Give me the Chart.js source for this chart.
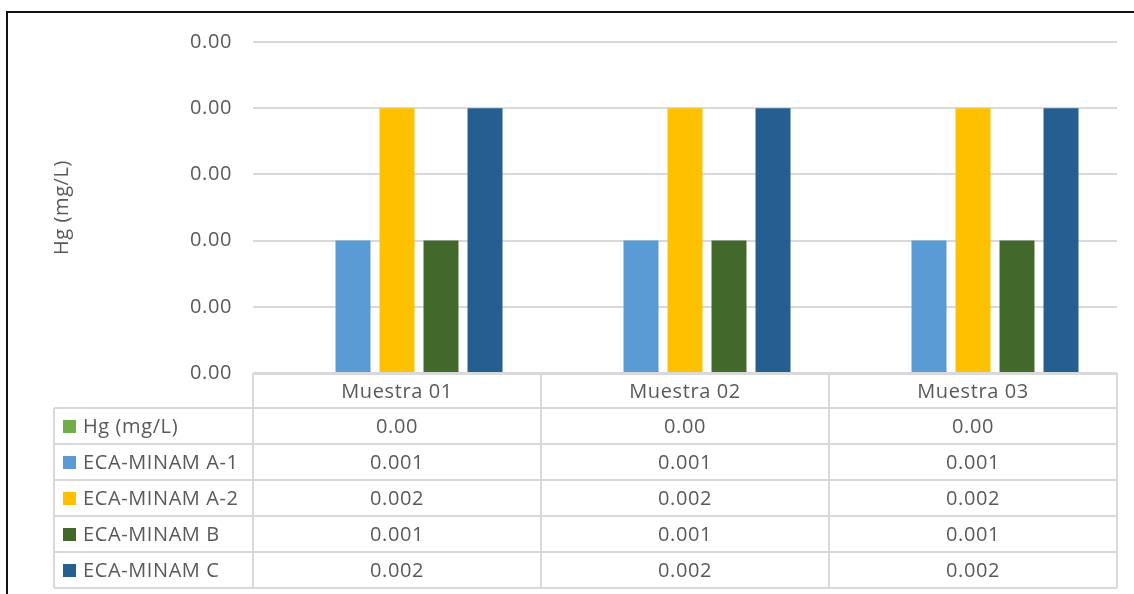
<!DOCTYPE html>
<html>
<head>
<meta charset="utf-8">
<script src="https://cdn.jsdelivr.net/npm/chart.js@4"></script>
<style>
  html, body { margin: 0; padding: 0; background: #fff; overflow: hidden; }
  #wrap { position: relative; width: 1134px; height: 594px; }
  #frame {
    position: absolute; left: 6px; top: 11px; right: -4px; bottom: -4px;
    border-top: 2px solid #111; border-left: 2px solid #111;
    pointer-events: none;
  }
</style>
</head>
<body>
<div id="wrap">
  <canvas id="chart" width="1134" height="594"></canvas>
  <div id="frame"></div>
</div>
<script>
const muestras = ["Muestra 01", "Muestra 02", "Muestra 03"];
const seriesNames = ["Hg (mg/L)", "ECA-MINAM A-1", "ECA-MINAM A-2", "ECA-MINAM B", "ECA-MINAM C"];
const hg = [0, 0, 0];
const ecaA1 = [0.001, 0.001, 0.001];
const ecaA2 = [0.002, 0.002, 0.002];
const ecaB = [0.001, 0.001, 0.001];
const ecaC = [0.002, 0.002, 0.002];
const decimals = [2, 3, 3, 3, 3];
const colors = ["#70AD47", "#5B9BD5", "#FFC000", "#43682B", "#255E91"];
const yMax = 0.0025;
const yStep = 0.0005;

const FONT = "'Open Sans', 'Noto Sans', sans-serif";
const FONT_SIZE = 20;
const TEXT = "#595959";
const LINE = "#d9d9d9";
const ROW_H = 36;
const LEGEND_LEFT = 54;

// slightly looser tracking for all canvas text
const spacing = {
  id: "spacing",
  beforeDraw(chart) { chart.ctx.letterSpacing = "0.6px"; }
};

// data table under the plot, laid out on the x scale's category bands
const dataTable = {
  id: "dataTable",
  afterDraw(chart) {
    const ctx = chart.ctx;
    const x = chart.scales.x;
    const top = chart.chartArea.bottom;
    const band = (x.right - x.left) / muestras.length;
    const rowsTop = top + ROW_H - 1;
    const bottom = rowsTop + ROW_H * seriesNames.length;

    ctx.save();
    ctx.strokeStyle = LINE;
    ctx.lineWidth = 2;
    ctx.beginPath();
    // header row
    ctx.moveTo(x.left, top + 1);
    ctx.lineTo(x.right, top + 1);
    for (let i = 0; i <= muestras.length; i++) {
      const px = x.left + band * i;
      ctx.moveTo(px, top);
      ctx.lineTo(px, bottom);
    }
    ctx.moveTo(LEGEND_LEFT, rowsTop);
    ctx.lineTo(LEGEND_LEFT, bottom);
    for (let r = 0; r <= seriesNames.length; r++) {
      const py = rowsTop + ROW_H * r;
      ctx.moveTo(LEGEND_LEFT, py);
      ctx.lineTo(x.right, py);
    }
    ctx.stroke();

    ctx.font = FONT_SIZE + "px " + FONT;
    ctx.fillStyle = TEXT;
    ctx.textBaseline = "middle";
    ctx.textAlign = "center";
    muestras.forEach((m, i) => {
      ctx.fillText(m, x.getPixelForValue(i), top + ROW_H / 2 + 1);
    });

    chart.data.datasets.forEach((ds, r) => {
      const cy = rowsTop + ROW_H * r + ROW_H / 2 + 1;
      ctx.fillStyle = ds.backgroundColor;
      ctx.fillRect(LEGEND_LEFT + 9, cy - 7, 13, 13);
      ctx.fillStyle = TEXT;
      ctx.textAlign = "left";
      ctx.fillText(ds.label, LEGEND_LEFT + 29, cy);
      ctx.textAlign = "center";
      ds.data.forEach((v, i) => {
        ctx.fillText(v.toFixed(decimals[r]), x.getPixelForValue(i), cy);
      });
    });
    ctx.restore();
  }
};

const seriesData = [hg, ecaA1, ecaA2, ecaB, ecaC];

new Chart(document.getElementById("chart"), {
  type: "bar",
  data: {
    labels: muestras,
    datasets: seriesNames.map((name, i) => ({
      label: name,
      data: seriesData[i],
      backgroundColor: colors[i],
      barPercentage: 0.795,
      categoryPercentage: 0.764
    }))
  },
  options: {
    responsive: false,
    animation: false,
    layout: { padding: { top: 42, right: 17, bottom: 221, left: 0 } },
    plugins: {
      legend: { display: false },
      tooltip: { enabled: false }
    },
    scales: {
      x: {
        display: false,
        grid: { display: false }
      },
      y: {
        min: 0,
        max: yMax,
        afterFit(scale) { scale.width = 253; },
        border: { display: false },
        grid: { color: LINE, lineWidth: 2, drawTicks: false },
        ticks: {
          stepSize: yStep,
          padding: 21,
          color: TEXT,
          font: { family: FONT, size: FONT_SIZE },
          callback: v => Number(v).toFixed(2)
        },
        title: {
          display: true,
          text: "Hg (mg/L)",
          color: TEXT,
          font: { family: FONT, size: FONT_SIZE },
          padding: { top: 50, bottom: 0 }
        }
      }
    }
  },
  plugins: [spacing, dataTable]
});
</script>
</body>
</html>
